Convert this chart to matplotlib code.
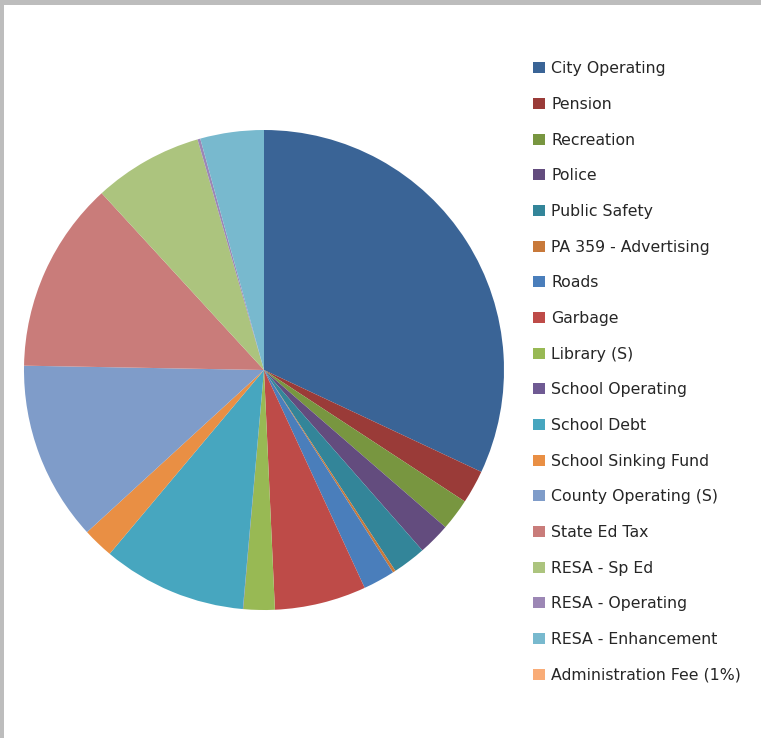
import matplotlib
matplotlib.use("Agg")
import matplotlib.pyplot as plt
from matplotlib.patches import Rectangle

categories = ["City Operating", "Pension", "Recreation", "Police", "Public Safety",
              "PA 359 - Advertising", "Roads", "Garbage", "Library (S)", "School Operating",
              "School Debt", "School Sinking Fund", "County Operating (S)", "State Ed Tax",
              "RESA - Sp Ed", "RESA - Operating", "RESA - Enhancement", "Administration Fee (1%)"]
values = [32.0, 2.25, 2.14, 2.17, 2.25, 0.19, 2.14, 6.17, 2.11, 0.02,
          9.72, 2.08, 12.1, 12.9, 7.36, 0.19, 4.28, 0.0]
colors = ["#3A6496", "#9A3B38", "#789640", "#634C7E", "#338599", "#C8793A",
          "#4A7EBB", "#BE4B48", "#98B954", "#6F5A93", "#47A6BF", "#E98F44",
          "#7F9CC9", "#C97C7A", "#ACC47E", "#9C87B5", "#78B9CE", "#F9AC77"]

W, H = 761, 738
fig = plt.figure(figsize=(W / 100, H / 100), dpi=100)
fig.patch.set_facecolor("white")

# screenshot-like grey frame at top and left
fig.patches.append(Rectangle((0, 1 - 5 / H), 1, 5 / H, transform=fig.transFigure,
                             facecolor="#BDBDBD", edgecolor="none", zorder=0))
fig.patches.append(Rectangle((0, 0), 4 / W, 1, transform=fig.transFigure,
                             facecolor="#BDBDBD", edgecolor="none", zorder=0))

cx, cy, r = 264, 370, 240
ax = fig.add_axes([(cx - r) / W, (H - cy - r) / H, 2 * r / W, 2 * r / H])
wedges, _ = ax.pie(values, colors=colors, startangle=90, counterclock=False,
                   radius=1.0, wedgeprops=dict(edgecolor="none", linewidth=0))
ax.set_xlim(-1, 1)
ax.set_ylim(-1, 1)
ax.set_aspect("equal")
ax.axis("off")

leg = fig.legend(wedges, categories, loc="upper left",
                 bbox_to_anchor=(527 / W, 1 - 55 / H), frameon=False,
                 prop={"family": "DejaVu Sans", "size": 11.3},
                 handlelength=0.72, handleheight=0.72, handletextpad=0.42,
                 labelspacing=1.317, borderaxespad=0)
for t in leg.get_texts():
    t.set_color("#262626")

fig.savefig("out.png", dpi=100, facecolor="white")
